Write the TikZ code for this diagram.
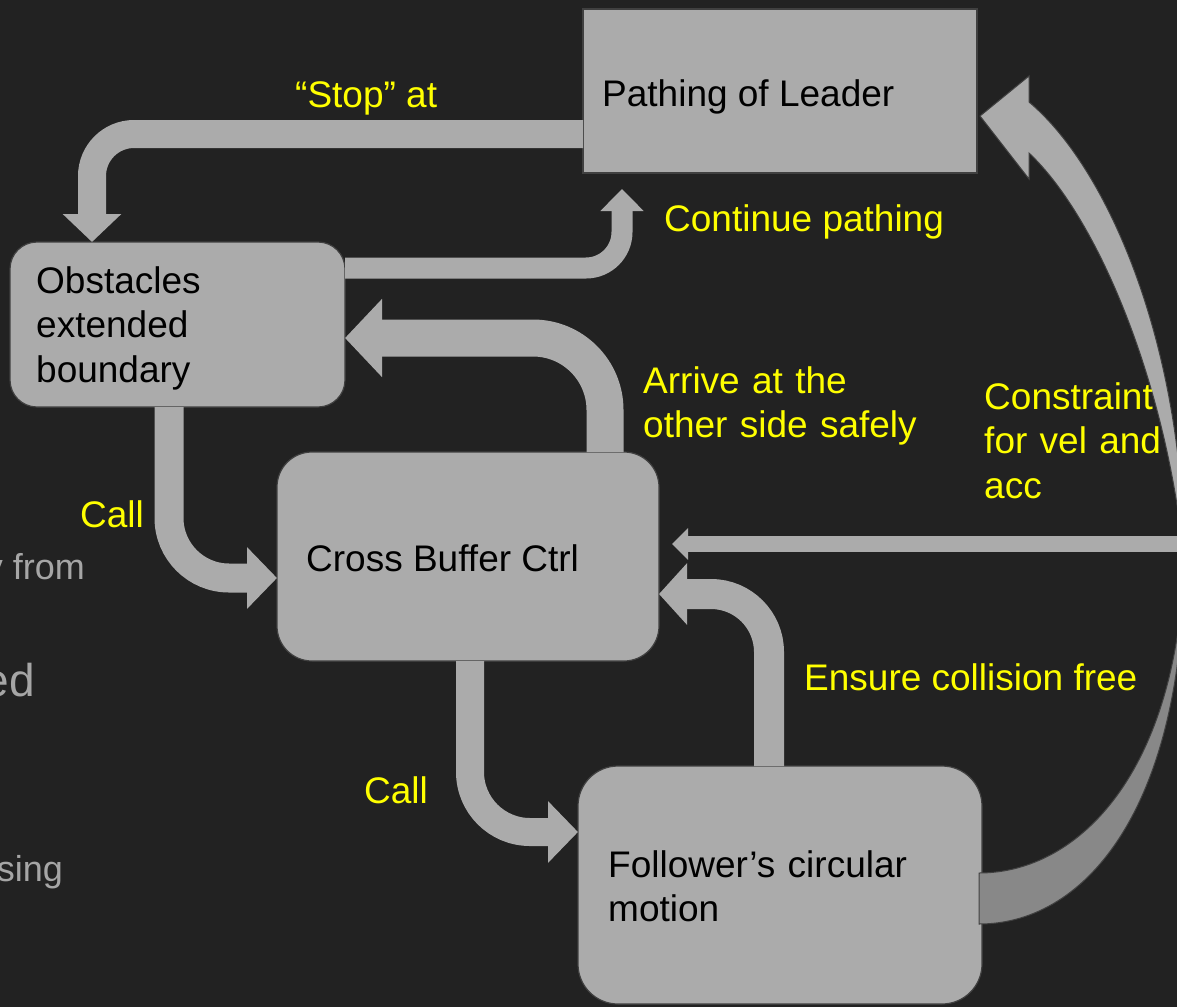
\documentclass[tikz,border=0pt]{standalone}
\usepackage{fontspec}
\setmainfont{Liberation Sans}
\usetikzlibrary{arrows.meta}
\definecolor{bg}{HTML}{222222}
\definecolor{boxfill}{HTML}{ABABAB}
\definecolor{boxedge}{HTML}{404040}
\definecolor{darkband}{HTML}{888888}
\definecolor{fadetext}{HTML}{A6A6A6}
\definecolor{lbl}{HTML}{FFFF00}
\begin{document}
\begin{tikzpicture}[x=1pt,y=-1pt,
  box/.style={draw=boxedge, line width=1.2pt, fill=boxfill, inner sep=0pt, outer sep=0pt},
  txt/.style={font=\fontsize{37}{44.5}\selectfont, text=black, inner sep=0pt, anchor=base west},
  lbltxt/.style={txt, text=lbl},
  fragtxt/.style={inner sep=0pt, anchor=base east, text=fadetext},
  flow/.style={draw=boxfill, line width=#1}]
\useasboundingbox (0,0) rectangle (1177,1007);
\fill[bg] (0,0) rectangle (1177,1007);
\clip (0,0) rectangle (1177,1007);

% faded background fragments (cut off by the left edge, as in the reference)
\node[fragtxt, font=\fontsize{36}{43}\selectfont] (frag1) at (85,579) {y from};
\node[fragtxt, font=\fontsize{46}{55}\selectfont] (frag2) at (35,696) {ed};
\node[fragtxt, font=\fontsize{36}{43}\selectfont] (frag3) at (63,881) {sing};

% boxes
\node[box, minimum width=394pt, minimum height=164pt] (lead) at (780,91) {};
\node[box, rounded corners=27pt, minimum width=335pt, minimum height=165pt] (obs) at (177.5,324.5) {};
\node[box, rounded corners=35pt, minimum width=382pt, minimum height=209pt] (cross) at (468,556.5) {};
\node[box, rounded corners=40pt, minimum width=404pt, minimum height=238pt] (foll) at (780,885) {};

% box texts
\node[txt] (leadtxt) at (602,106) {Pathing of Leader};
\node[txt, text width=300pt, align=left] (obstxt) at (36,293) {Obstacles\\extended\\boundary};
\node[txt] (crosstxt) at (306,571) {Cross Buffer Ctrl};
\node[txt, text width=370pt, align=left] (folltxt) at (608,877) {Follower’s circular\\motion};

% connectors
\draw[flow=28pt, -{Triangle[width=57pt,length=28pt]}, rounded corners=42pt]
  (lead.west |- 0,134) -- (92,134) -- (obs.north -| 92,0);
\draw[flow=21pt, -{Triangle[width=42pt,length=22pt]}, rounded corners=36pt]
  (obs.east |- 0,268) -- (622,268) -- (622,189);
\draw[flow=37pt, -{Triangle[width=76pt,length=37pt]}, rounded corners=72pt]
  (cross.north -| 605,0) -- (605,338) -- (obs.east |- 0,338);
\draw[flow=29pt, -{Triangle[width=60pt,length=30pt]}, rounded corners=60pt]
  (obs.south -| 169,0) -- (169,578) -- (cross.west |- 0,578);
\draw[flow=28pt, -{Triangle[width=60pt,length=30pt]}, rounded corners=60pt]
  (cross.south -| 470,0) -- (470,832) -- (foll.west |- 0,832);
\draw[flow=30pt, -{Triangle[width=60pt,length=28pt]}, rounded corners=58pt]
  (foll.north -| 769,0) -- (769,594) -- (cross.east |- 0,594);

% curved constraint arrow (front face and back face)
\filldraw[fill=boxfill, draw=boxedge, line width=1pt]
  (1029,102) .. controls (1110,170) and (1184,350) .. (1184,560)
  .. controls (1168,390) and (1100,220) .. (1029,153)
  -- (1029,179) -- (980,116) -- (1029,76) -- cycle;
\filldraw[fill=darkband, draw=boxedge, line width=1pt]
  (979,873) .. controls (1080,873) and (1178,770) .. (1184,560)
  .. controls (1184,800) and (1090,924) .. (979,924) -- cycle;

% long feed-back arrow entering from the right
\coordinate (feed) at (1190,544);
\coordinate (feedtip) at (672,544);
\draw[flow=16pt, -{Triangle[width=31pt,length=16pt]}] (feed) -- (feedtip);

% labels
\node[lbltxt] (lstop) at (295,107) {“Stop” at};
\node[lbltxt] (lcont) at (664,231) {Continue pathing};
\node[lbltxt, text width=300pt, align=left] (larr) at (643,393) {Arrive at the\\other side safely};
\node[lbltxt, text width=200pt, align=left] (lcon) at (984,409) {Constraint\\for vel and\\acc};
\node[lbltxt] (lens) at (804,690) {Ensure collision free};
\node[lbltxt] (lcall1) at (80,527) {Call};
\node[lbltxt] (lcall2) at (364,803) {Call};
\end{tikzpicture}
\end{document}
